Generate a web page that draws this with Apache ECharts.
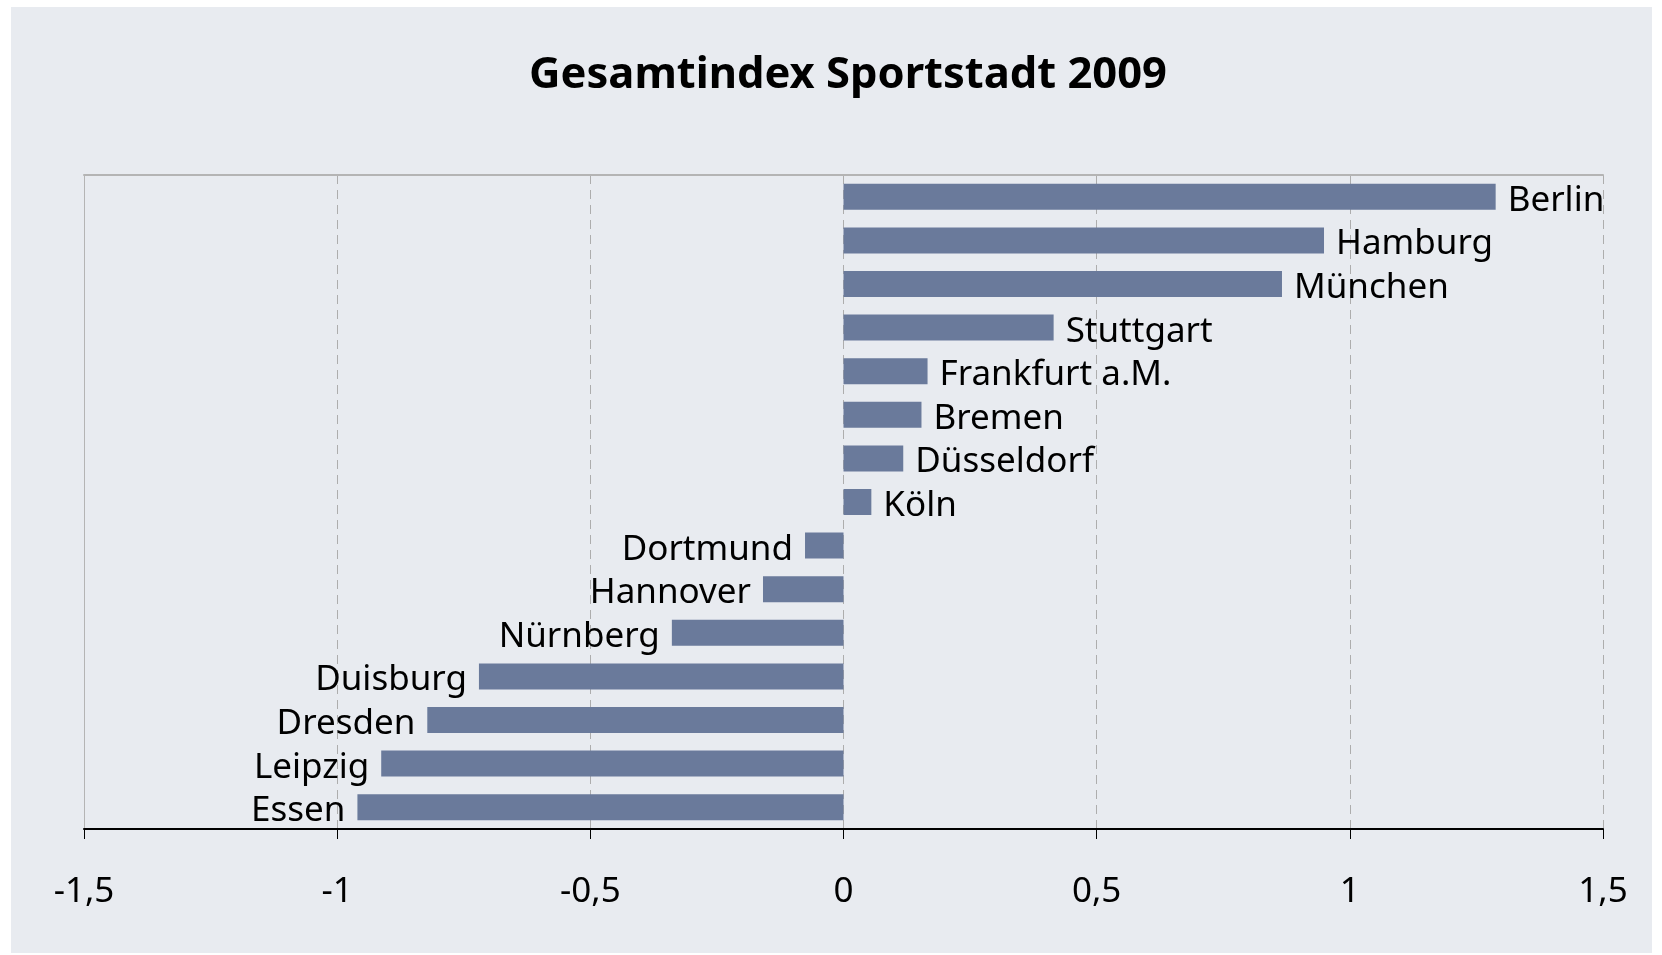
<!DOCTYPE html>
<html>
<head>
<meta charset="utf-8">
<script src="https://cdn.jsdelivr.net/npm/echarts@6/dist/echarts.min.js"></script>
<style>
html,body{margin:0;padding:0;background:#ffffff;}
#frame{position:absolute;left:11px;top:7px;width:1641px;height:946px;background:#E8EBF0;}
#chart{position:absolute;left:0;top:0;width:1662px;height:955px;}
</style>
</head>
<body>
<div id="frame"></div>
<div id="chart"></div>
<script>
const titleText = 'Gesamtindex Sportstadt 2009';
const cities = ['Berlin','Hamburg','München','Stuttgart','Frankfurt a.M.','Bremen','Düsseldorf','Köln','Dortmund','Hannover','Nürnberg','Duisburg','Dresden','Leipzig','Essen'];
const indexValues = [1.288, 0.949, 0.866, 0.415, 0.166, 0.154, 0.118, 0.055, -0.076, -0.159, -0.339, -0.720, -0.822, -0.913, -0.960];
const xMin = -1.5, xMax = 1.5, xStep = 0.5;

const FONT = '"Noto Sans", "Open Sans", sans-serif';
const chart = echarts.init(document.getElementById('chart'), null, {renderer:'canvas'});

const barData = indexValues.map(v => ({
  value: v,
  label: { position: v >= 0 ? 'right' : 'left' }
}));

chart.setOption({
  backgroundColor: 'transparent',
  animation: false,
  title: {
    text: titleText,
    left: 843,
    top: 49,
    textAlign: 'center',
    textStyle: { fontFamily: FONT, fontSize: 43.5, fontWeight: 'bold', color: '#000' }
  },
  grid: { left: 84, right: 59, top: 175, bottom: 126, containLabel: false },
  xAxis: [{
    type: 'value', min: xMin, max: xMax, interval: xStep, position: 'bottom',
    axisLine: { show: true, onZero: false, lineStyle: { color: '#000', width: 2 } },
    axisTick: { show: true, inside: false, length: 10, lineStyle: { color: '#000', width: 1 } },
    axisLabel: {
      margin: 46, fontFamily: FONT, fontSize: 35, color: '#000',
      formatter: v => String(Math.round(v*10)/10).replace('.', ',')
    },
    splitLine: { show: true, lineStyle: { color: '#ADADAD', type: [9, 6], width: 1 } }
  }, {
    type: 'value', min: xMin, max: xMax, interval: xStep, position: 'top',
    axisLine: { show: true, onZero: false, lineStyle: { color: '#B4B4B4', width: 2 } },
    axisTick: { show: false }, axisLabel: { show: false }, splitLine: { show: false }
  }],
  yAxis: {
    type: 'category', data: cities, inverse: true,
    axisLine: { show: true, onZero: false, lineStyle: { color: '#B4B4B4', width: 1 } },
    axisTick: { show: false }, axisLabel: { show: false }, splitLine: { show: false }
  },
  series: [{
    type: 'bar', xAxisIndex: 0, data: barData, barWidth: 26,
    itemStyle: { color: '#6A7A9B' },
    label: {
      show: true, formatter: '{b}', distance: 12, offset: [0, 4],
      fontFamily: FONT, fontSize: 35, color: '#000'
    }
  }]
});
</script>
</body>
</html>
